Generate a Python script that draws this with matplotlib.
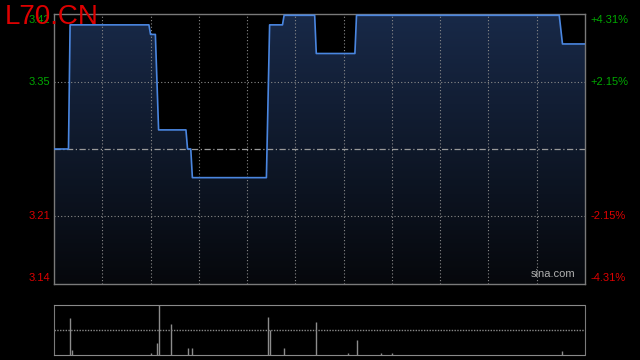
import matplotlib
matplotlib.use("Agg")
import matplotlib.pyplot as plt
import numpy as np
from matplotlib.patches import Polygon

# ---- data ----
title = "L70.CN"
prev_close = 3.28
pct_levels = [4.31, 2.15, -2.15, -4.31]
price_labels = ["3.42", "3.35", "3.21", "3.14"]
pct_labels = ["+4.31%", "+2.15%", "-2.15%", "-4.31%"]

# minutes since open (0..330) and price at each turning point
times = [0, 9, 10, 59, 60, 63, 65, 82, 83, 85, 86, 132, 134, 142, 143, 162, 163, 187, 188, 314, 316, 330]
prices = [3.28, 3.28, 3.41, 3.41, 3.40, 3.40, 3.30, 3.30, 3.28, 3.28, 3.25, 3.25, 3.41, 3.41,
          3.42, 3.42, 3.38, 3.38, 3.42, 3.42, 3.39, 3.39]

vol_times = [10, 11, 60, 64, 65, 73, 83, 86, 133, 134, 143, 163, 183, 188, 203, 210, 316]
vol_values = [74, 10, 5, 25, 100, 63, 15, 15, 77, 50, 15, 67, 5, 31, 5, 5, 9]

total_minutes = 330
grid_step = 30

GREEN = "#00a800"
RED = "#dd0000"
GRID = "#8a8a8a"
FRAME = "#7a7a7a"
LINE = "#4a86e0"

fig = plt.figure(figsize=(6.4, 3.6), dpi=100, facecolor="black")
W, H = 640, 360
ax = fig.add_axes([54 / W, 1 - 284 / H, (585 - 54) / W, (284 - 14) / H])
axv = fig.add_axes([54 / W, 1 - 355 / H, (585 - 54) / W, (355 - 305) / H])

ymax = prev_close * (1 + pct_levels[0] / 100)
ymin = prev_close * (1 + pct_levels[-1] / 100)

for a in (ax, axv):
    a.set_facecolor("black")
    a.set_xticks([])
    a.set_yticks([])
    a.set_xlim(0, total_minutes)

ax.set_ylim(ymin, ymax)

# gradient fill under the line
grad = np.linspace(0, 1, 256).reshape(-1, 1)
top_c = np.array([24, 41, 72]) / 255
bot_c = np.array([6, 8, 12]) / 255
img = top_c[None, None, :] * grad[:, :, None] + bot_c[None, None, :] * (1 - grad[:, :, None])
im = ax.imshow(img, extent=[0, total_minutes, ymin, ymax], origin="lower", aspect="auto", zorder=1)
poly_pts = [(times[0], ymin)] + list(zip(times, prices)) + [(times[-1], ymin)]
poly = Polygon(poly_pts, closed=True, facecolor="none", edgecolor="none")
ax.add_patch(poly)
im.set_clip_path(poly)

# grid
for t in range(grid_step, total_minutes, grid_step):
    ax.axvline(t, color=GRID, lw=0.8, ls=(0, (1, 2)), zorder=2)
    axv.axvline(t, color="none")
for i in (1, 2):
    lvl = prev_close * (1 + pct_levels[i] / 100)
    ax.axhline(lvl, color=GRID, lw=0.8, ls=(0, (1, 2)), zorder=2)
ax.axhline(prev_close, color="#9a9a9a", lw=0.9, ls=(0, (5, 2, 1, 2)), zorder=2)

ax.plot(times, prices, color=LINE, lw=1.2, zorder=3)

for s in ax.spines.values():
    s.set_color(FRAME)
    s.set_linewidth(1)

# y labels
offsets = [-6, 0, 0, 6]
for i in range(4):
    lvl = prev_close * (1 + pct_levels[i] / 100)
    col = GREEN if pct_levels[i] > 0 else RED
    ax.annotate(price_labels[i], xy=(0, lvl), xycoords=("axes fraction", "data"),
                xytext=(-3, offsets[i] * 0.72), textcoords="offset points",
                ha="right", va="center", color=col, fontsize=8, family="Liberation Sans")
    ax.annotate(pct_labels[i], xy=(1, lvl), xycoords=("axes fraction", "data"),
                xytext=(4, offsets[i] * 0.72), textcoords="offset points",
                ha="left", va="center", color=col, fontsize=8, family="Liberation Sans")

ax.text(0.982, 0.018, "sina.com", transform=ax.transAxes, ha="right", va="bottom",
        color="#b0b0b0", fontsize=8, family="Liberation Sans", zorder=4)

fig.text(5 / W, 1 - 17 / H, title, color=RED, fontsize=20, family="Liberation Sans",
         ha="left", va="center")

# volume panel
axv.set_ylim(0, 100)
axv.vlines(vol_times, 0, vol_values, color="#8c8c8c", lw=1)
axv.axhline(50, color=GRID, lw=1, ls=(0, (1, 1)))
for side in ("top", "bottom"):
    axv.spines[side].set_linestyle((0, (1, 1)))
    axv.spines[side].set_color(GRID)
for side in ("left", "right"):
    axv.spines[side].set_color(FRAME)

fig.savefig("out.png", dpi=100, facecolor="black")
